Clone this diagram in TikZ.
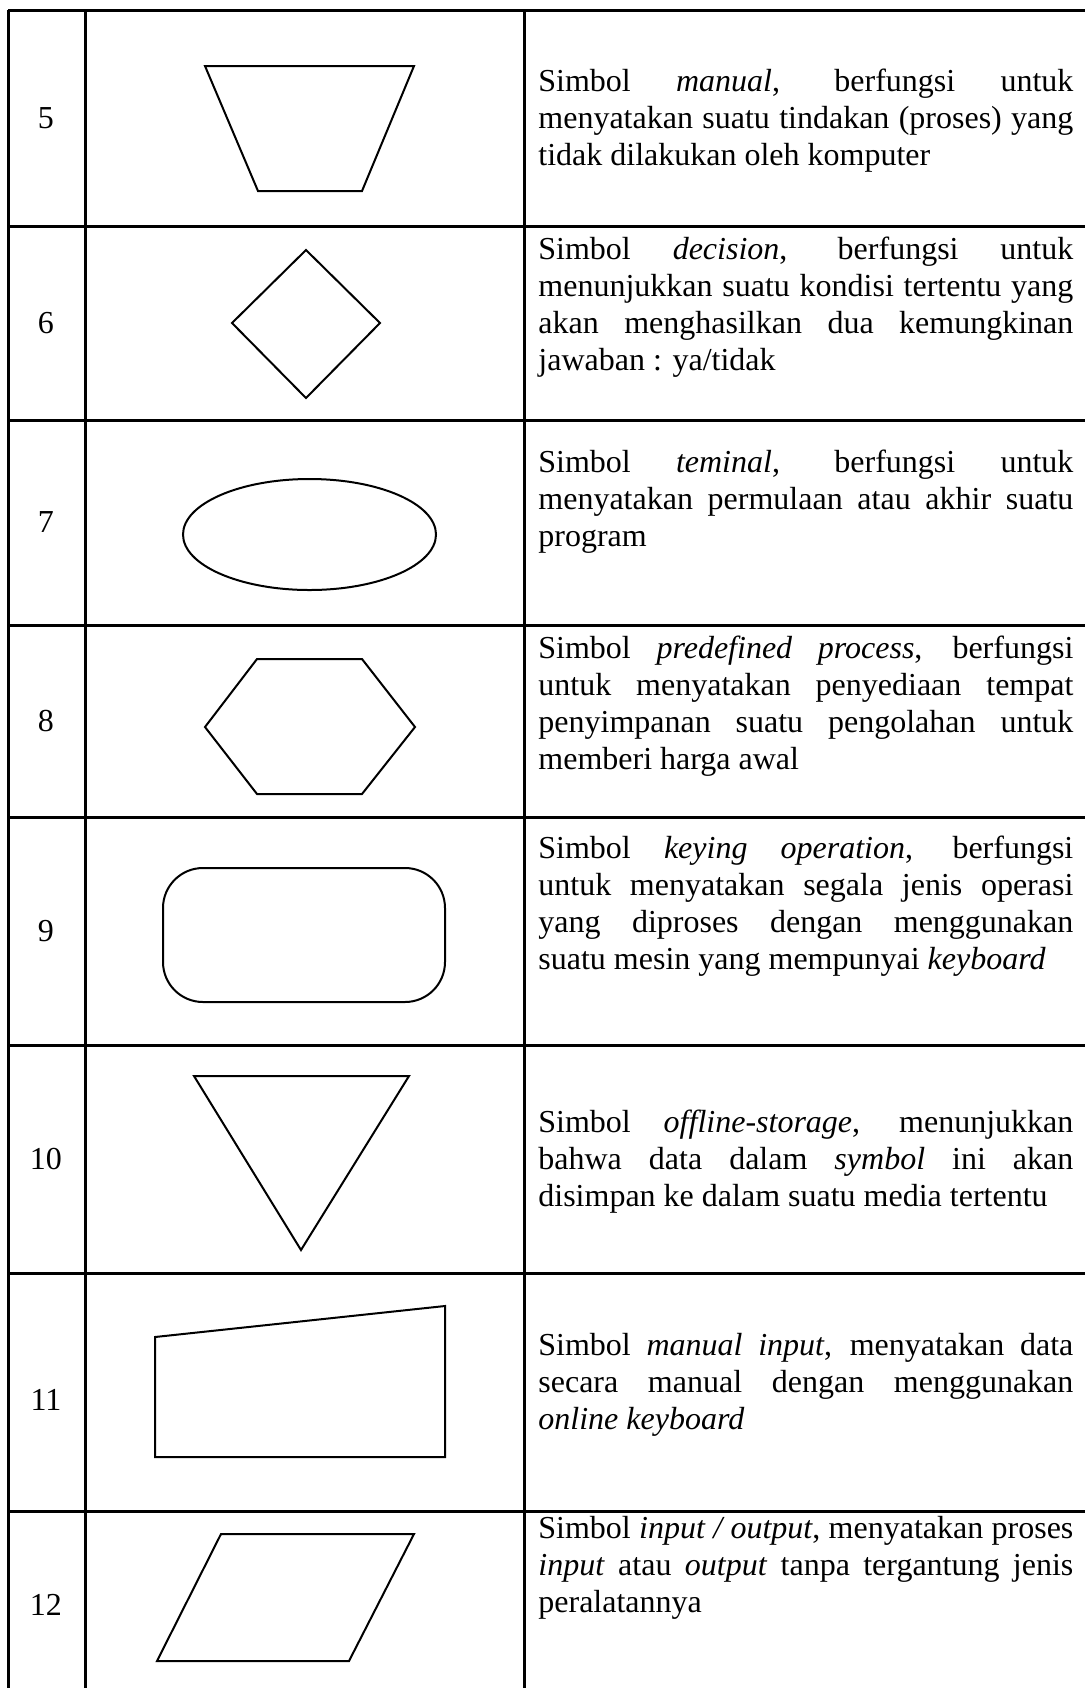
\documentclass[tikz,border=0pt]{standalone}
\usepackage{fontspec}
\setmainfont{Liberation Serif}
\usetikzlibrary{positioning}

\tikzset{
  gridline/.style={line width=1.5pt},
  symbol/.style={line width=1pt, line join=miter},
  num/.style={font=\fontsize{16}{18.5}\selectfont, inner sep=0pt},
  desc/.style={anchor=north west, inner sep=0pt, text width=267.5pt, align=justify,
    font=\fontsize{16}{18.5}\selectfont}
}

\begin{document}
\begin{tikzpicture}[x=0.5pt, y=-0.5pt]
    \useasboundingbox (0,0) rectangle (1085,1688);

    % table grid
    \foreach \r in {10,226,420,625,817,1045,1273,1511}
        \draw[gridline] (8,\r) -- (1085,\r);
    \foreach \c in {8,85,524}
        \draw[gridline] (\c,10) -- (\c,1688);

    % row numbers
    \node[num] (n5) at (46,118) {5};
    \node[num] (n6) at (46,323) {6};
    \node[num] (n7) at (46,522) {7};
    \node[num] (n8) at (46,721) {8};
    \node[num] (n9) at (46,931) {9};
    \node[num] (n10) at (46,1159) {10};
    \node[num] (n11) at (46,1400) {11};
    \node[num] (n12) at (46,1605) {12};

    % symbols
    \draw[symbol] (205,66) -- (414,66) -- (362,191) -- (258,191) -- cycle;
    \draw[symbol] (306,250) -- (380,323) -- (306,398) -- (232,323) -- cycle;
    \draw[symbol] (309.5,534.5) ellipse [x radius=126.5, y radius=55.5];
    \draw[symbol] (257,659) -- (362,659) -- (415,727) -- (362,794) -- (257,794) -- (205,727) -- cycle;
    \draw[symbol, rounded corners=20] (163,868) rectangle (445,1002);
    \draw[symbol] (194,1076) -- (409,1076) -- (301,1250) -- cycle;
    \draw[symbol] (155,1337) -- (445,1306) -- (445,1457) -- (155,1457) -- cycle;
    \draw[symbol] (221,1534) -- (414,1534) -- (349,1661) -- (157,1661) -- cycle;

    % descriptions
    \node[desc] (t5) at (538,65) {\strut Simbol \textit{manual}, berfungsi untuk\linebreak
        menyatakan suatu tindakan (proses) yang\linebreak tidak dilakukan oleh komputer};
    \node[desc] (t6) at (538,233) {\strut Simbol \textit{decision}, berfungsi untuk\linebreak
        menunjukkan suatu kondisi tertentu yang\linebreak akan menghasilkan dua kemungkinan\linebreak
        jawaban : ya/tidak};
    \node[desc] (t7) at (538,446) {\strut Simbol \textit{teminal}, berfungsi untuk\linebreak
        menyatakan permulaan atau akhir suatu\linebreak program};
    \node[desc] (t8) at (538,632) {\strut Simbol \textit{predefined process}, berfungsi\linebreak
        untuk menyatakan penyediaan tempat\linebreak penyimpanan suatu pengolahan untuk\linebreak
        memberi harga awal};
    \node[desc] (t9) at (538,832) {\strut Simbol \textit{keying operation}, berfungsi\linebreak
        untuk menyatakan segala jenis operasi\linebreak yang diproses dengan menggunakan\linebreak
        suatu mesin yang mempunyai \textit{keyboard}};
    \node[desc] (t10) at (538,1106) {\strut Simbol \textit{offline-storage}, menunjukkan\linebreak
        bahwa data dalam \textit{symbol} ini akan\linebreak disimpan ke dalam suatu media tertentu};
    \node[desc] (t11) at (538,1329) {\strut Simbol \textit{manual input}, menyatakan data\linebreak
        secara manual dengan menggunakan\linebreak \textit{online keyboard}};
    \node[desc] (t12) at (538,1512) {\strut Simbol \textit{input / output}, menyatakan proses\linebreak
        \textit{input} atau \textit{output} tanpa tergantung jenis\linebreak peralatannya};
\end{tikzpicture}
\end{document}
